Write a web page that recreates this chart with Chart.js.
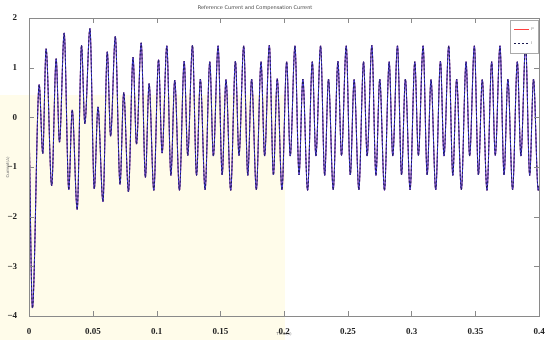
<!DOCTYPE html>
<html>
<head>
<meta charset="utf-8">
<script src="https://cdn.jsdelivr.net/npm/chart.js@4.4.0/dist/chart.umd.min.js"></script>
<style>
  html, body { margin: 0; padding: 0; background: #fff; }
  #wrap { width: 550px; height: 340px; }
</style>
</head>
<body>
<div id="wrap"><canvas id="chart"></canvas></div>
<script>
// time axis (s): extrema of the waveform
var timeS = [
  0, 0.0027, 0.0080, 0.0108, 0.0134, 0.0178, 0.0213, 0.0239, 0.0276, 0.0312,
  0.0339, 0.0378, 0.0412, 0.0438, 0.0478, 0.0512, 0.0541, 0.0580, 0.0614, 0.0640,
  0.0677, 0.0714, 0.0743, 0.0780, 0.0816, 0.0843, 0.0880, 0.0913,
  0.0942, 0.0979, 0.1016, 0.1044, 0.1081, 0.1113,
  0.1143, 0.1180, 0.1217, 0.1245, 0.1282, 0.1314,
  0.1344, 0.1381, 0.1418, 0.1446, 0.1483, 0.1515,
  0.1545, 0.1582, 0.1619, 0.1647, 0.1684, 0.1716,
  0.1746, 0.1783, 0.1820, 0.1848, 0.1885, 0.1917,
  0.1947, 0.1984, 0.2021, 0.2049, 0.2086, 0.2118,
  0.2148, 0.2185, 0.2222, 0.2250, 0.2287, 0.2319,
  0.2349, 0.2386, 0.2423, 0.2451, 0.2488, 0.2520,
  0.2550, 0.2587, 0.2624, 0.2652, 0.2689, 0.2721,
  0.2751, 0.2788, 0.2825, 0.2853, 0.2890, 0.2922,
  0.2952, 0.2989, 0.3026, 0.3054, 0.3091, 0.3123,
  0.3153, 0.3190, 0.3227, 0.3255, 0.3292, 0.3324,
  0.3354, 0.3391, 0.3428, 0.3456, 0.3493, 0.3525,
  0.3555, 0.3592, 0.3629, 0.3657, 0.3694, 0.3726,
  0.3756, 0.3793, 0.3830, 0.3858, 0.3895, 0.3927,
  0.3957, 0.3994, 0.4
];

// reference current (A)
var refCurrent = [
  0, -3.84, 0.66, -0.73, 1.38, -1.38, 1.18, -0.50, 1.70, -1.46,
  0.15, -1.86, 1.45, -0.13, 1.79, -1.44, 0.21, -1.70, 1.32, -0.38,
  1.63, -1.35, 0.50, -1.50, 1.21, -0.54, 1.50, -1.21,
  0.68, -1.47, 1.16, -0.72, 1.44, -1.17,
  0.75, -1.47, 1.13, -0.77, 1.45, -1.17,
  0.77, -1.46, 1.12, -0.78, 1.44, -1.16,
  0.76, -1.47, 1.13, -0.77, 1.44, -1.17,
  0.77, -1.46, 1.12, -0.78, 1.45, -1.16,
  0.78, -1.46, 1.12, -0.78, 1.44, -1.16,
  0.77, -1.47, 1.12, -0.78, 1.44, -1.17,
  0.77, -1.46, 1.13, -0.77, 1.44, -1.16,
  0.76, -1.46, 1.12, -0.78, 1.45, -1.17,
  0.77, -1.47, 1.12, -0.78, 1.44, -1.16,
  0.77, -1.46, 1.12, -0.77, 1.44, -1.16,
  0.76, -1.46, 1.13, -0.78, 1.44, -1.17,
  0.77, -1.46, 1.12, -0.78, 1.44, -1.16,
  0.76, -1.47, 1.12, -0.77, 1.44, -1.16,
  0.77, -1.46, 1.12, -0.78, 1.45, -1.17,
  0.77, -1.47, -1.38
];

// compensation current (A) - tracks the reference
var compCurrent = refCurrent.slice();

var seriesNames = ['i*', 'i'];
var xTicks = [0, 0.05, 0.1, 0.15, 0.2, 0.25, 0.3, 0.35, 0.4];
var yTicks = [-4, -3, -2, -1, 0, 1, 2];

function pts(vals) {
  return timeS.map(function (t, i) { return { x: t, y: vals[i] }; });
}

var tickFont = { family: 'Liberation Serif', size: 9, weight: 'bold' };

// faint yellowish scan tint in the lower left of the original picture
var scanTint = {
  id: 'scanTint',
  beforeDraw: function (chart) {
    var ctx = chart.ctx;
    ctx.save();
    ctx.fillStyle = 'rgba(255, 246, 180, 0.28)';
    ctx.fillRect(0, 95, 285, 245);
    ctx.restore();
  }
};

// matlab style frame, inward ticks, title and legend box
var matlabFrame = {
  id: 'matlabFrame',
  afterDatasetsDraw: function (chart) {
    var ctx = chart.ctx, a = chart.chartArea;
    var xs = chart.scales.x, ys = chart.scales.y;
    ctx.save();
    ctx.strokeStyle = '#8a8a8a';
    ctx.lineWidth = 1;
    ctx.strokeRect(a.left + 0.5, a.top + 0.5, a.right - a.left, a.bottom - a.top);
    ctx.beginPath();
    xTicks.forEach(function (v) {
      var px = Math.round(xs.getPixelForValue(v)) + 0.5;
      ctx.moveTo(px, a.bottom); ctx.lineTo(px, a.bottom - 5);
      ctx.moveTo(px, a.top); ctx.lineTo(px, a.top + 5);
    });
    yTicks.forEach(function (v) {
      var py = Math.round(ys.getPixelForValue(v)) + 0.5;
      ctx.moveTo(a.left, py); ctx.lineTo(a.left + 5, py);
      ctx.moveTo(a.right, py); ctx.lineTo(a.right - 5, py);
    });
    ctx.stroke();

    // legend box
    var lx = a.right - 29, ly = a.top + 2, lw = 28, lh = 33;
    ctx.fillStyle = '#fff';
    ctx.fillRect(lx, ly, lw, lh);
    ctx.strokeStyle = '#aaa';
    ctx.strokeRect(lx + 0.5, ly + 0.5, lw, lh);
    ctx.lineWidth = 1;
    ctx.strokeStyle = '#ff4040';
    ctx.beginPath(); ctx.moveTo(lx + 4, ly + 9.5); ctx.lineTo(lx + 19, ly + 9.5); ctx.stroke();
    ctx.strokeStyle = '#1a1a50';
    ctx.setLineDash([2, 2]);
    ctx.beginPath(); ctx.moveTo(lx + 4, ly + 23.5); ctx.lineTo(lx + 19, ly + 23.5); ctx.stroke();
    ctx.setLineDash([]);
    ctx.fillStyle = '#777';
    ctx.font = '4px "DejaVu Sans"';
    ctx.textBaseline = 'middle';
    ctx.fillText(seriesNames[0], lx + 21, ly + 9);
    ctx.fillText(seriesNames[1], lx + 21, ly + 23);

    // title
    ctx.fillStyle = '#444';
    ctx.font = '5px "DejaVu Sans"';
    ctx.textAlign = 'center';
    ctx.fillText('Reference Current and Compensation Current', 255, 8);
    ctx.restore();
  }
};

new Chart(document.getElementById('chart'), {
  type: 'line',
  data: {
    datasets: [
      {
        label: seriesNames[0],
        data: pts(refCurrent),
        borderColor: '#e04040',
        borderWidth: 1,
        pointRadius: 0,
        order: 3,
        cubicInterpolationMode: 'monotone'
      },
      {
        label: 'under',
        data: pts(compCurrent),
        borderColor: '#3a3ae6',
        borderWidth: 1,
        pointRadius: 0,
        order: 2,
        cubicInterpolationMode: 'monotone'
      },
      {
        label: seriesNames[1],
        data: pts(compCurrent),
        borderColor: '#1c1c55',
        borderWidth: 1,
        borderDash: [2, 2],
        pointRadius: 0,
        order: 1,
        cubicInterpolationMode: 'monotone'
      }
    ]
  },
  options: {
    responsive: true,
    maintainAspectRatio: false,
    animation: false,
    layout: { padding: { top: 18, right: 11, left: 0, bottom: 0 } },
    plugins: {
      legend: { display: false },
      title: { display: false },
      tooltip: { enabled: false }
    },
    scales: {
      x: {
        type: 'linear',
        min: 0,
        max: 0.4,
        afterBuildTicks: function (s) { s.ticks = xTicks.map(function (v) { return { value: v }; }); },
        afterFit: function (s) { s.height = 24; },
        grid: { display: false },
        border: { display: false },
        ticks: {
          font: tickFont,
          color: '#222',
          padding: 2,
          maxRotation: 0,
          callback: function (v) { return String(v); }
        },
        title: {
          display: true,
          text: 'Time(s)',
          font: { family: 'DejaVu Sans', size: 4 },
          color: '#777',
          padding: { top: 0, bottom: 4 }
        }
      },
      y: {
        min: -4,
        max: 2,
        afterBuildTicks: function (s) { s.ticks = yTicks.map(function (v) { return { value: v }; }); },
        afterFit: function (s) { s.width = 29; },
        grid: { display: false },
        border: { display: false },
        ticks: {
          font: tickFont,
          color: '#222',
          padding: 4,
          callback: function (v) { return v < 0 ? '\u2212' + Math.abs(v) : String(v); }
        },
        title: {
          display: true,
          text: 'Current(A)',
          font: { family: 'DejaVu Sans', size: 4 },
          color: '#777',
          padding: { top: 6, bottom: 0 }
        }
      }
    }
  },
  plugins: [scanTint, matlabFrame]
});
</script>
</body>
</html>
